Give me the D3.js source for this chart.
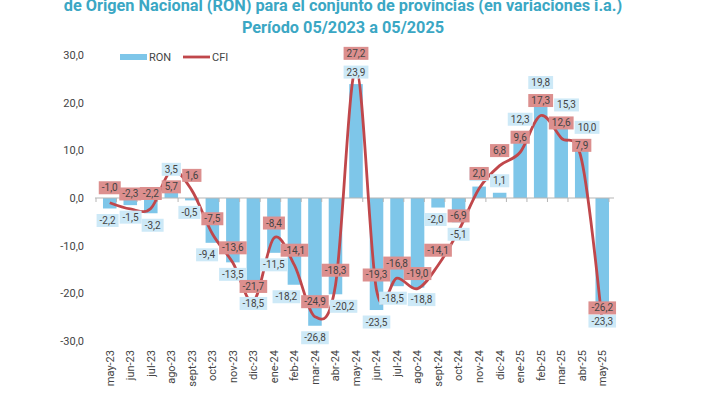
<!DOCTYPE html>
<html>
<head>
<meta charset="utf-8">
<script src="https://cdn.jsdelivr.net/npm/d3@7"></script>
<style>
  body { margin: 0; background: #fff; }
  svg { display: block; font-family: Roboto, "Noto Sans", sans-serif; }
</style>
</head>
<body>
<svg width="707" height="397"></svg>
<script>
const width = 707;
const height = 397;

// Data
const months = [
  "may-23", "jun-23", "jul-23", "ago-23", "sept-23", "oct-23", "nov-23", "dic-23",
  "ene-24", "feb-24", "mar-24", "abr-24", "may-24", "jun-24", "jul-24", "ago-24",
  "sept-24", "oct-24", "nov-24", "dic-24", "ene-25", "feb-25", "mar-25", "abr-25", "may-25"
];
const ron = [
  -2.2, -1.5, -3.2, 3.5, -0.5, -9.4, -13.5, -18.5,
  -11.5, -18.2, -26.8, -20.2, 23.9, -23.5, -18.5, -18.8,
  -2.0, -5.1, 2.4, 1.1, 12.3, 19.8, 15.3, 10.0, -23.3
];
const cfi = [
  -1.0, -2.3, -2.2, 5.7, 1.6, -7.5, -13.6, -21.7,
  -8.4, -14.1, -24.9, -18.3, 27.2, -19.3, -16.8, -19.0,
  -14.1, -6.9, 2.0, 6.8, 9.6, 17.3, 12.6, 7.9, -26.2
];
const yTicks = [30, 20, 10, 0, -10, -20, -30];
const titleLines = [
  "de Origen Nacional (RON) para el conjunto de provincias (en variaciones i.a.)",
  "Período 05/2023 a 05/2025"
];

const rows = months.map((m, i) => ({ month: m, ron: ron[i], cfi: cfi[i] }));

const locale = d3.formatLocale({
  decimal: ",", thousands: ".", grouping: [3], currency: ["$", ""], minus: "-"
});
const fmt = locale.format(".1f");

const svg = d3.select("svg").attr("width", width).attr("height", height);

// Title (top line is partly cut off in the original)
svg.append("g")
  .selectAll("text")
  .data(titleLines)
  .join("text")
  .attr("x", 343)
  .attr("y", (d, i) => 11 + i * 22)
  .attr("text-anchor", "middle")
  .attr("font-size", 16.3)
  .attr("font-weight", "bold")
  .attr("fill", "#3ba7c4")
  .text((d) => d);

// Scales
const x = d3.scaleBand().domain(months).range([96, 616]).padding(0.34);
const y = d3.scaleLinear().domain([-30, 30]).range([341, 55]);
const cx = (d) => x(d.month) + x.bandwidth() / 2;

// Y axis labels (no line, no grid)
svg.append("g")
  .selectAll("text")
  .data(yTicks)
  .join("text")
  .attr("x", 84)
  .attr("y", (d) => y(d))
  .attr("dy", "0.35em")
  .attr("text-anchor", "end")
  .attr("font-size", 11)
  .attr("fill", "#444")
  .text((d) => fmt(d));

// Bars
svg.append("g")
  .selectAll("rect")
  .data(rows)
  .join("rect")
  .attr("x", (d) => x(d.month))
  .attr("width", x.bandwidth())
  .attr("y", (d) => y(Math.max(0, d.ron)))
  .attr("height", (d) => Math.abs(y(d.ron) - y(0)))
  .attr("fill", "#7ec6e9");

// X axis at zero
const xAxis = svg.append("g")
  .attr("transform", `translate(0,${y(0)})`);
xAxis.append("line")
  .attr("x1", x.range()[0] - 1)
  .attr("x2", x.range()[1] - 2)
  .attr("stroke", "#b5b5b5")
  .attr("stroke-width", 1.2);
xAxis.selectAll("line.tick")
  .data(months.concat(["end"]))
  .join("line")
  .attr("class", "tick")
  .attr("x1", (d, i) => x.range()[0] + i * x.step())
  .attr("x2", (d, i) => x.range()[0] + i * x.step())
  .attr("y1", 0)
  .attr("y2", 4)
  .attr("stroke", "#b5b5b5");

// Category labels, rotated
svg.append("g")
  .selectAll("text")
  .data(months)
  .join("text")
  .attr("transform", (d) => `translate(${x(d) + x.bandwidth() / 2},350) rotate(-90)`)
  .attr("dy", "0.35em")
  .attr("text-anchor", "end")
  .attr("font-size", 11)
  .attr("fill", "#444")
  .text((d) => d);

// CFI line
const line = d3.line()
  .x(cx)
  .y((d) => y(d.cfi))
  .curve(d3.curveCardinal.tension(0));

svg.append("path")
  .datum(rows)
  .attr("d", line)
  .attr("fill", "none")
  .attr("stroke", "#c0474b")
  .attr("stroke-width", 2.8);

// Label placement
const measure = svg.append("text").attr("font-size", 10);
function textW(s) {
  measure.text(s);
  return measure.node().getComputedTextLength() + 6;
}

const labels = [];
rows.forEach((d, i) => {
  let cfiY = y(d.cfi) - 15;
  let ronY = d.ron >= 0 ? y(d.ron) - 12 : y(d.ron) + 12;
  if (d.ron > 0 && d.cfi > d.ron && Math.abs(ronY - cfiY) < 14) {
    // not enough room above: CFI label goes under its point
    cfiY = y(d.cfi) + 16;
  } else if (Math.abs(ronY - cfiY) < 12 && Math.abs(d.ron - d.cfi) > 1) {
    ronY = d.ron >= 0 ? cfiY - 18 : cfiY + 17;
  }
  labels.push({ col: i, series: "ron", text: fmt(d.ron), x: cx(d), y: ronY, w: textW(fmt(d.ron)), fill: "#cde9f7" });
  labels.push({ col: i, series: "cfi", text: fmt(d.cfi), x: cx(d), y: cfiY, w: textW(fmt(d.cfi)), fill: "#dc8f8e" });
});
measure.remove();

// push RON labels sideways where they collide with neighbours
for (let k = 0; k < 20; k++) {
  labels.forEach((a) => {
    if (a.series !== "ron") return;
    labels.forEach((b) => {
      if (a === b || a.col === b.col) return;
      if (Math.abs(a.y - b.y) >= 12) return;
      const ov = (a.w + b.w) / 2 - Math.abs(a.x - b.x);
      if (ov <= 0) return;
      const dir = a.x < b.x ? -1 : 1;
      if (b.series === "cfi") {
        a.x += dir * (ov + 1);
      } else {
        a.x += dir * (ov + 1) / 2;
        b.x -= dir * (ov + 1) / 2;
      }
    });
  });
}

const lab = svg.append("g")
  .selectAll("g")
  .data(labels.filter((d) => d.series === "ron").concat(labels.filter((d) => d.series === "cfi")))
  .join("g")
  .attr("transform", (d) => `translate(${d.x},${d.y})`);
lab.append("rect")
  .attr("x", (d) => -d.w / 2)
  .attr("y", -6.5)
  .attr("width", (d) => d.w)
  .attr("height", 13)
  .attr("fill", (d) => d.fill);
lab.append("text")
  .attr("text-anchor", "middle")
  .attr("dy", "0.35em")
  .attr("font-size", 10)
  .attr("fill", "#444")
  .text((d) => d.text);

// Legend
const legend = svg.append("g");
legend.append("rect")
  .attr("x", 120).attr("y", 54).attr("width", 27).attr("height", 6)
  .attr("fill", "#7ec6e9");
legend.append("text")
  .attr("x", 149).attr("y", 57).attr("dy", "0.35em")
  .attr("font-size", 11).attr("fill", "#444").text("RON");
legend.append("line")
  .attr("x1", 183).attr("x2", 210).attr("y1", 57).attr("y2", 57)
  .attr("stroke", "#c0474b").attr("stroke-width", 2.8);
legend.append("text")
  .attr("x", 212).attr("y", 57).attr("dy", "0.35em")
  .attr("font-size", 11).attr("fill", "#444").text("CFI");
</script>
</body>
</html>
